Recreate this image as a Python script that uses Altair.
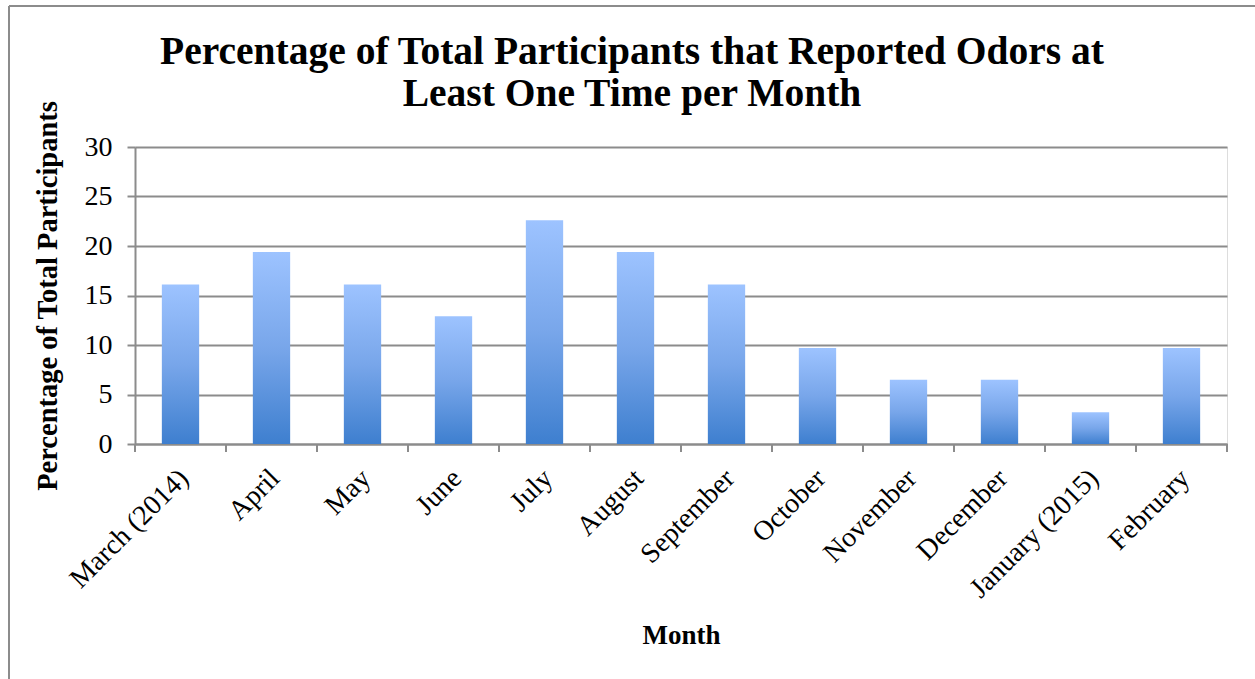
import altair as alt
import pandas as pd

months = ["March (2014)", "April", "May", "June", "July", "August", "September",
          "October", "November", "December", "January  (2015)", "February"]
values = [16.1, 19.4, 16.1, 12.9, 22.6, 19.4, 16.1, 9.7, 6.5, 6.5, 3.2, 9.7]

df = pd.DataFrame({"month": months, "value": values})
df["is_last"] = df["month"] == months[-1]

FONT = "Liberation Serif"
GRAY = "#8c8c8c"
W, H = 1092, 297

gradient = {
    "gradient": "linear",
    "x1": 0, "y1": 0, "x2": 0, "y2": 1,
    "stops": [
        {"offset": 0, "color": "#9dc3ff"},
        {"offset": 0.5, "color": "#78a6ea"},
        {"offset": 1, "color": "#3e7fcf"},
    ],
}

xsort = alt.Sort(months)

bars = alt.Chart(df).mark_bar(color=gradient).encode(
    x=alt.X("month:N", sort=xsort,
            scale=alt.Scale(paddingInner=0.59, paddingOuter=0.295),
            axis=alt.Axis(title="Month", labelAngle=-45, ticks=False,
                          domainColor=GRAY, domainWidth=2,
                          labelFont=FONT, labelFontSize=28, labelColor="black",
                          labelPadding=20, labelOffset=-6,
                          titleFont=FONT, titleFontSize=27, titleFontWeight="bold",
                          titleColor="black", titlePadding=14)),
    y=alt.Y("value:Q",
            scale=alt.Scale(domain=[0, 30]),
            axis=alt.Axis(title="Percentage of Total Participants",
                          values=[0, 5, 10, 15, 20, 25, 30],
                          grid=True, gridColor=GRAY, gridWidth=2,
                          domainColor=GRAY, domainWidth=2,
                          tickColor=GRAY, tickWidth=2, tickSize=8,
                          labelFont=FONT, labelFontSize=28, labelColor="black",
                          labelPadding=15,
                          titleFont=FONT, titleFontSize=28.5, titleFontWeight="bold",
                          titleColor="black", titlePadding=22)),
)

tick_scale = alt.Scale(paddingInner=0, paddingOuter=0)
ticks = alt.Chart(df).mark_rule(color=GRAY, strokeWidth=2).encode(
    x=alt.X("month:N", sort=xsort, scale=tick_scale, axis=None, bandPosition=0),
    y=alt.value(H),
    y2=alt.value(H + 8),
)
last_tick = alt.Chart(df).transform_filter("datum.is_last").mark_rule(
    color=GRAY, strokeWidth=2).encode(
    x=alt.X("month:N", sort=xsort, scale=tick_scale, axis=None, bandPosition=1),
    y=alt.value(H),
    y2=alt.value(H + 8),
)

frame_left = alt.Chart(df).transform_filter("datum.is_last").mark_rule(
    color=GRAY, strokeWidth=2, clip=False).encode(
    x=alt.value(-126), y=alt.value(-141), y2=alt.value(H + 240))
frame_top = alt.Chart(df).transform_filter("datum.is_last").mark_rule(
    color=GRAY, strokeWidth=2, clip=False).encode(
    x=alt.value(-126), x2=alt.value(W + 40), y=alt.value(-141))

chart = alt.layer(frame_left, frame_top, bars, ticks, last_tick).resolve_scale(
    x="independent"
).properties(
    width=W, height=H,
    title=alt.TitleParams(
        text=["Percentage of Total Participants that Reported Odors at",
              "Least One Time per Month"],
        font=FONT, fontSize=39.5, fontWeight="bold", color="black",
        anchor="middle", dx=-49, dy=109, lineHeight=42, offset=0,
    ),
    autosize=alt.AutoSizeParams(type="none"),
    padding={"left": 135, "top": 147, "right": 28, "bottom": 235},
).configure_view(stroke=None).configure(background="white")

chart.save("out.html", embed_options={"renderer": "svg", "actions": False})
